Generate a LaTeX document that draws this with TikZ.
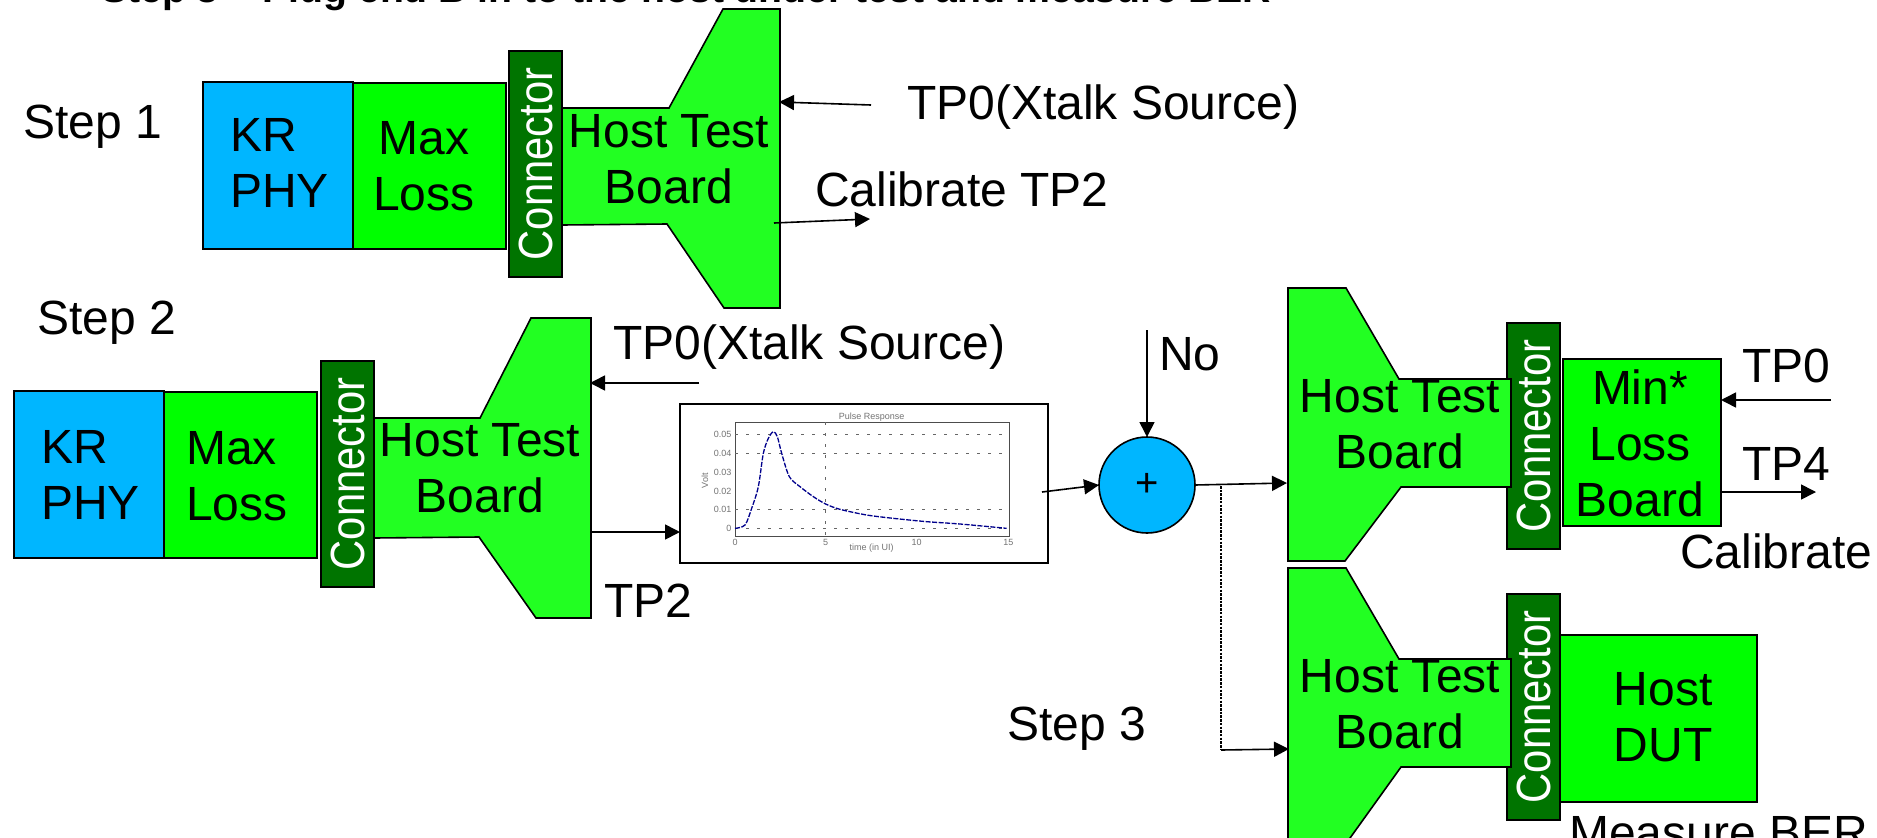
\documentclass[tikz,border=0pt]{standalone}
\usepackage{fontspec}
\setmainfont{Liberation Sans}
\usetikzlibrary{arrows.meta}
\definecolor{krblue}{HTML}{00B6FF}
\definecolor{lossgreen}{HTML}{00FF00}
\definecolor{boardgreen}{HTML}{22FF22}
\definecolor{conngreen}{HTML}{007400}
\tikzset{
  lbl/.style={font=\fontsize{48}{56}\selectfont,inner sep=0pt,align=center,text height=35pt,text depth=0pt},
  lblm/.style={font=\fontsize{48}{56}\selectfont,inner sep=0pt,align=center},
  lbll/.style={lblm,align=left},
  boxb/.style={draw=black,line width=1.6pt,anchor=north west,inner sep=0pt,outer sep=0pt},
  kr/.style={boxb,fill=krblue},
  loss/.style={boxb,fill=lossgreen},
  conn/.style={boxb,fill=conngreen,minimum width=53pt,minimum height=226pt},
  conntext/.style={font=\fontsize{48}{56}\selectfont,text=white,rotate=90,xscale=.87,inner sep=0pt},
  board/.style={draw=black,line width=1.6pt,fill=boardgreen,line join=miter},
  arr/.style={draw=black,line width=1.6pt,-{Triangle[length=15pt,width=15pt]}},
  dots/.style={draw=black,line width=1.8pt,dash pattern=on 2.5pt off 1.2pt},
  gridl/.style={draw=black!60,line width=1.6pt,dash pattern=on 3pt off 8pt},
  tiny/.style={font=\fontsize{9}{11}\selectfont,text=black!55,inner sep=0pt}
}
\begin{document}
\begin{tikzpicture}[x=1pt,y=-1pt]
\useasboundingbox (0,0) rectangle (1877,838);
\clip (0,0) rectangle (1877,838);

\node[anchor=base,font=\bfseries\fontsize{39.2}{47}\selectfont,inner sep=0pt] (title) at (686,2) {Step 3 – Plug end B in to the host under test and measure BER};

% --- Step 1
\node[lbl] (s1) at (93,121) {Step 1};
\node[kr,minimum width=150pt,minimum height=167pt] (kr1) at (203,82) {};
\node[loss,minimum width=153pt,minimum height=166pt] (max1) at (353,83) {};
\node[conn] (c1) at (509,51) {};
\node[conntext] at (c1.center) {Connector};
\draw[board] (562,108) -- (669,108) -- (723,9) -- (780,9) -- (780,308) -- (724,308) -- (667,224) -- (562,225) -- cycle;
\node[lbll,anchor=west] (kr1t) at (230,163) {KR\\PHY};
\node[lblm] (max1t) at (424,166) {Max\\Loss};
\node[lblm] (b1t) at (669,159) {Host Test\\Board};
\coordinate (b1a) at (779,102);
\coordinate (b1b) at (774,223);
\coordinate (t0a) at (871,105);
\coordinate (t2a) at (870,219);
\draw[arr] (t0a) -- (b1a);
\draw[arr] (b1b) -- (t2a);
\node[lbl,anchor=west] (t01) at (907,102) {TP0(Xtalk Source)};
\node[lbl,anchor=west] (cal2) at (815,189) {Calibrate TP2};

% --- Step 2
\node[lbl] (s2) at (107,317) {Step 2};
\node[kr,minimum width=150pt,minimum height=167pt] (kr2) at (14,391) {};
\node[loss,minimum width=153pt,minimum height=166pt] (max2) at (164,392) {};
\node[conn] (c2) at (321,361) {};
\node[conntext] at (c2.center) {Connector};
\draw[board] (374,418) -- (480,418) -- (531,318) -- (591,318) -- (591,618) -- (536,618) -- (479,537) -- (374,538) -- cycle;
\node[lbll,anchor=west] (kr2t) at (41,475) {KR\\PHY};
\node[lbll,anchor=west] (max2t) at (186,476) {Max\\Loss};
\node[lblm] (b2t) at (480,468) {Host Test\\Board};
\node[lbl,anchor=west] (t02) at (613,342) {TP0(Xtalk Source)};
\node[lbl,anchor=west] (t2) at (604,600) {TP2};
\coordinate (t02a) at (699,383);
\coordinate (b2a) at (590,383);
\coordinate (b2b) at (591,532);
\draw[arr] (t02a) -- (b2a);

% --- Chart
\node[draw=black,line width=1.4pt,fill=white,anchor=north west,inner sep=0pt,outer sep=0pt,minimum width=368pt,minimum height=159pt] (chart) at (680,404) {};
\draw[arr] (b2b) -- (chart.west |- b2b);
\begin{scope}[shift={(660,390)},scale=1/3]
  \draw[black!70,line width=1pt] (225,97) -- (1047,97) -- (1047,440) -- (225,440) -- cycle;
  \foreach \yy in {133,190,358,415} \draw[gridl] (225,\yy) -- (1047,\yy);
  \draw[gridl] (497,97) -- (497,440);
  \draw[draw=blue!55!black,line width=1.3pt,dash pattern=on 5pt off 1.5pt,line join=round]
    plot[smooth,tension=.5] coordinates {(225,415) (255,405) (275,355) (295,290) (310,190) (325,145) (340,125) (352,140) (365,190) (388,260) (420,290) (460,320) (497,342) (540,358) (620,375) (700,385) (800,395) (900,402) (1040,415)};
  \node[tiny] at (635,82) {Pulse Response};
  \node[tiny,anchor=east] at (215,133) {0.05};
  \node[tiny,anchor=east] at (215,190) {0.04};
  \node[tiny,anchor=east] at (215,247) {0.03};
  \node[tiny,anchor=east] at (215,303) {0.02};
  \node[tiny,anchor=east] at (215,358) {0.01};
  \node[tiny,anchor=east] at (215,415) {0};
  \node[tiny] at (225,456) {0};
  \node[tiny] at (497,456) {5};
  \node[tiny] at (770,456) {10};
  \node[tiny] at (1045,456) {15};
  \node[tiny] at (635,474) {time (in UI)};
  \node[tiny,rotate=90] at (135,272) {Volt};
\end{scope}

% --- Summing node
\node[draw=black,line width=1.6pt,fill=krblue,circle,minimum size=96pt,inner sep=0pt,outer sep=0pt,font=\fontsize{40}{44}\selectfont] (sum) at (1147,485) {+};
\coordinate (chartout) at (1042,492);
\draw[arr] (chartout) -- (sum.west);
\coordinate (noin) at (1147,330);
\draw[arr] (noin) -- (sum.north);
\node[lbl] (no) at (1190,353) {No};
\coordinate (jn) at (1221,486);
\coordinate (jc) at (1221,750);

% --- Calibrate host board
\node[conn] (c3) at (1507,323) {};
\node[conntext] at (c3.center) {Connector};
\draw[board] (1288,288) -- (1346,288) -- (1399,379) -- (1511,379) -- (1511,487) -- (1401,487) -- (1345,561) -- (1288,561) -- cycle;
\node[lblm] (b3t) at (1400,424) {Host Test\\Board};
\node[loss,minimum width=158pt,minimum height=167pt] (min) at (1563,359) {};
\node[lblm] (mint) at (1640,443) {Min*\\Loss\\Board};
\coordinate (b3in) at (1287,483);
\draw[arr] (sum.east) -- (b3in);
\coordinate (tp0e) at (1831,400);
\coordinate (tp4e) at (1816,492);
\draw[arr] (tp0e) -- (min.east |- tp0e);
\draw[arr] (min.east |- tp4e) -- (tp4e);
\node[lbl] (tp0) at (1786,365) {TP0};
\node[lbl] (tp4) at (1786,463) {TP4};
\node[lbl,anchor=west] (calib) at (1680,551) {Calibrate};

% --- Measure host board
\node[conn] (c4) at (1507,594) {};
\node[conntext] at (c4.center) {Connector};
\draw[board] (1288,568) -- (1346,568) -- (1399,659) -- (1511,659) -- (1511,767) -- (1401,767) -- (1345,845) -- (1288,845) -- cycle;
\node[lblm] (b4t) at (1400,704) {Host Test\\Board};
\node[loss,minimum width=197pt,minimum height=167pt] (dut) at (1560,635) {};
\node[lblm] (dutt) at (1663,717) {Host\\DUT};
\node[lbl] (s3) at (1077,723) {Step 3};
\node[lbl,anchor=west] (ber) at (1569,832) {Measure BER};
\coordinate (b4in) at (1289,749);
\draw[dots] (jn) -- (jc);
\draw[arr] (jc) -- (b4in);
\end{tikzpicture}
\end{document}
